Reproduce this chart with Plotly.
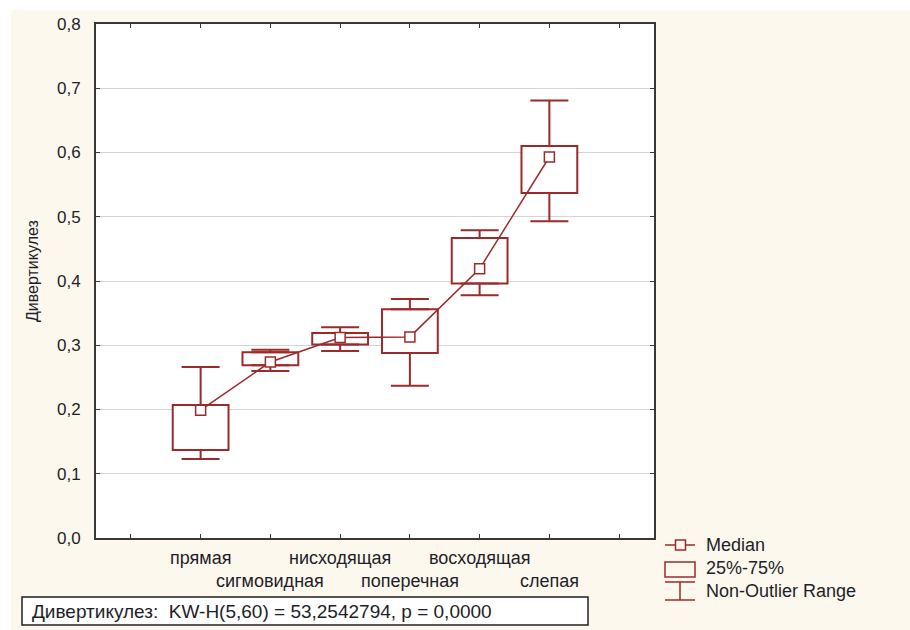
import plotly.graph_objects as go

# Diverticulosis index by colon segment (Kruskal-Wallis summary plot)
categories = ["прямая", "сигмовидная", "нисходящая", "поперечная", "восходящая", "слепая"]
positions = [1, 2, 3, 4, 5, 6]
median = [0.199, 0.274, 0.312, 0.313, 0.419, 0.593]
q1 = [0.137, 0.269, 0.301, 0.288, 0.396, 0.537]
q3 = [0.207, 0.289, 0.319, 0.356, 0.467, 0.610]
whisker_low = [0.123, 0.260, 0.291, 0.237, 0.378, 0.493]
whisker_high = [0.266, 0.293, 0.328, 0.372, 0.479, 0.681]
y_ticks = [0.0, 0.1, 0.2, 0.3, 0.4, 0.5, 0.6, 0.7, 0.8]
x_ticks = [0, 1, 2, 3, 4, 5, 6, 7]
legend_labels = ["Median", "25%-75%", "Non-Outlier Range"]
stats_text = "Дивертикулез:\u00a0 KW-H(5,60) = 53,2542794, p = 0,0000"
y_title = "Дивертикулез"

RED = "#9c2a2a"
AXIS = "#383838"
TEXT = "#1e1e28"
CREAM = "#fdf8ee"
FONT = "Liberation Sans, Arial, sans-serif"

W, H = 910, 630
L, R, T, B = 96, 256, 24, 92
PW, PH = W - L - R, H - T - B


def px(x):
    return (x - L) / PW


def py(y):
    return (H - B - y) / PH


fig = go.Figure()

# interquartile boxes
fig.add_trace(go.Bar(
    x=positions,
    y=[b - a for a, b in zip(q1, q3)],
    base=q1,
    width=0.8,
    marker=dict(color="white", line=dict(color=RED, width=2)),
    hoverinfo="skip",
))

# upper whiskers
fig.add_trace(go.Scatter(
    x=positions, y=q3, mode="markers",
    marker=dict(size=1, color="rgba(0,0,0,0)"),
    error_y=dict(type="data", symmetric=False,
                 array=[h - q for h, q in zip(whisker_high, q3)],
                 arrayminus=[0] * len(q3),
                 color=RED, thickness=2, width=19),
    hoverinfo="skip",
))

# lower whiskers
fig.add_trace(go.Scatter(
    x=positions, y=q1, mode="markers",
    marker=dict(size=1, color="rgba(0,0,0,0)"),
    error_y=dict(type="data", symmetric=False,
                 array=[0] * len(q1),
                 arrayminus=[q - lo for q, lo in zip(q1, whisker_low)],
                 color=RED, thickness=2, width=19),
    hoverinfo="skip",
))

# medians joined by a line
fig.add_trace(go.Scatter(
    x=positions, y=median, mode="lines+markers",
    line=dict(color=RED, width=1.5),
    marker=dict(symbol="square", size=10, color="white",
                line=dict(color=RED, width=1.5)),
))

shapes = [
    # cream page background and white plotting area
    dict(type="rect", xref="paper", yref="paper", layer="below",
         x0=px(11), x1=px(W + 5), y0=py(H + 5), y1=py(10),
         fillcolor=CREAM, line=dict(width=0)),
    dict(type="rect", xref="paper", yref="paper", layer="below",
         x0=0, x1=1, y0=0, y1=1, fillcolor="white", line=dict(width=0)),
    # legend: median symbol
    dict(type="line", xref="paper", yref="paper",
         x0=px(665), x1=px(695), y0=py(545), y1=py(545),
         line=dict(color=RED, width=1.5)),
    dict(type="rect", xref="paper", yref="paper",
         x0=px(675.5), x1=px(685.5), y0=py(550), y1=py(540),
         fillcolor=CREAM, line=dict(color=RED, width=1.5)),
    # legend: box symbol
    dict(type="rect", xref="paper", yref="paper",
         x0=px(665), x1=px(695), y0=py(577), y1=py(562),
         line=dict(color=RED, width=1.5)),
    # legend: whisker symbol
    dict(type="line", xref="paper", yref="paper",
         x0=px(665), x1=px(695), y0=py(582), y1=py(582),
         line=dict(color=RED, width=1.5)),
    dict(type="line", xref="paper", yref="paper",
         x0=px(665), x1=px(695), y0=py(600), y1=py(600),
         line=dict(color=RED, width=1.5)),
    dict(type="line", xref="paper", yref="paper",
         x0=px(680), x1=px(680), y0=py(582), y1=py(600),
         line=dict(color=RED, width=1.5)),
    # statistics box
    dict(type="rect", xref="paper", yref="paper",
         x0=px(22), x1=px(588), y0=py(625), y1=py(597),
         fillcolor="white", line=dict(color="#202020", width=1.5)),
]

annotations = []
# category labels on two staggered rows
for i, (pos, name) in enumerate(zip(positions, categories)):
    annotations.append(dict(
        x=pos, y=0, xref="x", yref="paper", text=name, showarrow=False,
        xanchor="center", yanchor="middle", yshift=-20 if i % 2 == 0 else -43,
        font=dict(family=FONT, size=18, color=TEXT)))

for label, yc in zip(legend_labels, [545, 568, 591]):
    annotations.append(dict(
        x=px(704), y=py(yc), xref="paper", yref="paper", text=label,
        showarrow=False, xanchor="left", yanchor="middle",
        font=dict(family=FONT, size=18, color=TEXT)))

annotations.append(dict(
    x=px(30), y=py(611), xref="paper", yref="paper", text=stats_text,
    showarrow=False, xanchor="left", yanchor="middle",
    font=dict(family=FONT, size=19, color=TEXT)))

annotations.append(dict(
    x=px(32), y=py(271), xref="paper", yref="paper", text=y_title,
    showarrow=False, textangle=-90, xanchor="center", yanchor="middle",
    font=dict(family=FONT, size=16, color=TEXT)))

fig.update_layout(
    width=W, height=H,
    margin=dict(l=L, r=R, t=T, b=B, pad=0),
    paper_bgcolor="white",
    plot_bgcolor="white",
    separators=", ",
    showlegend=False,
    shapes=shapes,
    annotations=annotations,
    font=dict(family=FONT, color=TEXT),
)

fig.update_xaxes(
    range=[-0.5, 7.5], tickmode="array", tickvals=x_ticks,
    showticklabels=False, ticks="inside", ticklen=4, tickwidth=1,
    tickcolor=AXIS, showgrid=False, zeroline=False,
    showline=True, linecolor=AXIS, linewidth=2, mirror="ticks",
)

fig.update_yaxes(
    range=[0, 0.8], tickmode="array", tickvals=y_ticks, tickformat=".1f",
    ticks="inside", ticklen=4, tickwidth=1, tickcolor=AXIS,
    ticklabelstandoff=10,
    tickfont=dict(family=FONT, size=17, color=TEXT),
    showgrid=True, gridcolor="#d4d4d4", gridwidth=1, zeroline=False,
    showline=True, linecolor=AXIS, linewidth=2, mirror="ticks",
)

fig.write_html("out.html")
